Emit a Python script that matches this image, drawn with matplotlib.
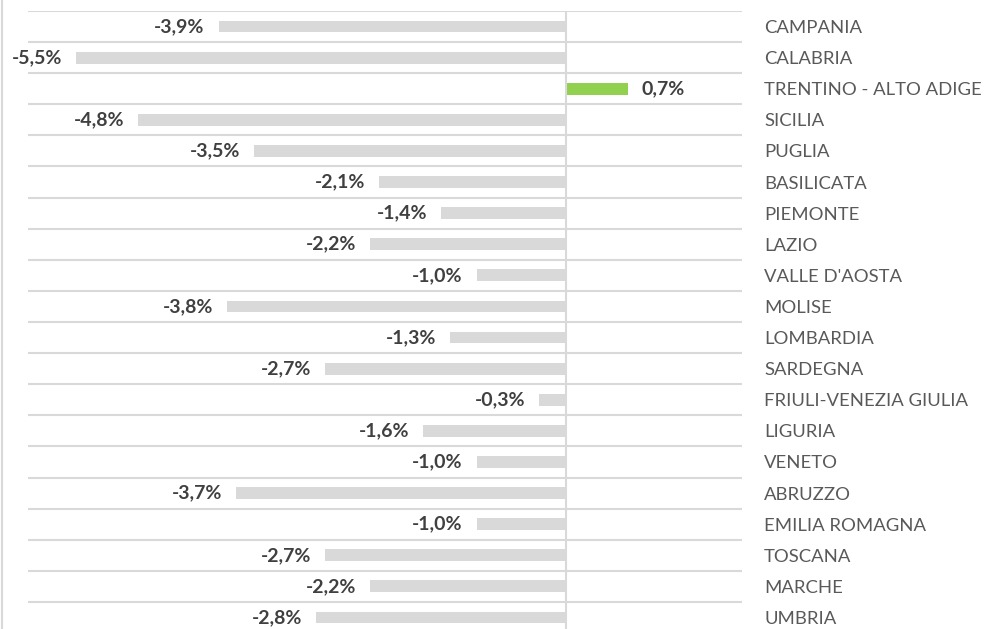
import matplotlib.pyplot as plt
from matplotlib.lines import Line2D

regions = ["CAMPANIA", "CALABRIA", "TRENTINO - ALTO ADIGE", "SICILIA", "PUGLIA",
           "BASILICATA", "PIEMONTE", "LAZIO", "VALLE D'AOSTA", "MOLISE",
           "LOMBARDIA", "SARDEGNA", "FRIULI-VENEZIA GIULIA", "LIGURIA", "VENETO",
           "ABRUZZO", "EMILIA ROMAGNA", "TOSCANA", "MARCHE", "UMBRIA"]
values = [-3.9, -5.5, 0.7, -4.8, -3.5, -2.1, -1.4, -2.2, -1.0, -3.8,
          -1.3, -2.7, -0.3, -1.6, -1.0, -3.7, -1.0, -2.7, -2.2, -2.8]

plt.rcParams['font.family'] = ['Lato', 'DejaVu Sans']

fig = plt.figure(figsize=(9.84, 6.29), dpi=100)
W, H = 984, 629
left, right, top, bottom = 28, 742, 11, 633
ax = fig.add_axes([left / W, 1 - bottom / H, (right - left) / W, (bottom - top) / H])

grid_c = '#d9d9d9'
ypos = list(range(len(regions)))
colors = ['#92d050' if v > 0 else '#d9d9d9' for v in values]
ax.barh(ypos, values, height=0.38, color=colors, zorder=2)

ax.set_xlim(-6.04, 1.98)
ax.set_ylim(len(regions) - 0.5, -0.5)

# horizontal separators between rows
for k in range(len(regions) + 1):
    ax.axhline(k - 0.5, color=grid_c, lw=1.5, zorder=1)
ax.axvline(0, color=grid_c, lw=1.5, zorder=3)

for y, v in zip(ypos, values):
    txt = f"{v:.1f}%".replace('.', ',')
    if v < 0:
        ax.annotate(txt, (v, y), xytext=(-10, 0), textcoords='offset points',
                    ha='right', va='center', fontsize=14, fontweight='bold', color='#404040')
    else:
        ax.annotate(txt, (v, y), xytext=(10, 0), textcoords='offset points',
                    ha='left', va='center', fontsize=14, fontweight='bold', color='#404040')

ax.set_yticks(ypos)
ax.set_yticklabels(regions, fontsize=13.3, color='#595959')
ax.yaxis.tick_right()
ax.tick_params(axis='y', length=0, pad=16)
ax.set_xticks([])
for s in ax.spines.values():
    s.set_visible(False)

# thin border on the far left of the picture
fig.add_artist(Line2D([2 / W, 2 / W], [0, 1], color=grid_c, lw=1.5))

fig.savefig('out.png', dpi=100)
